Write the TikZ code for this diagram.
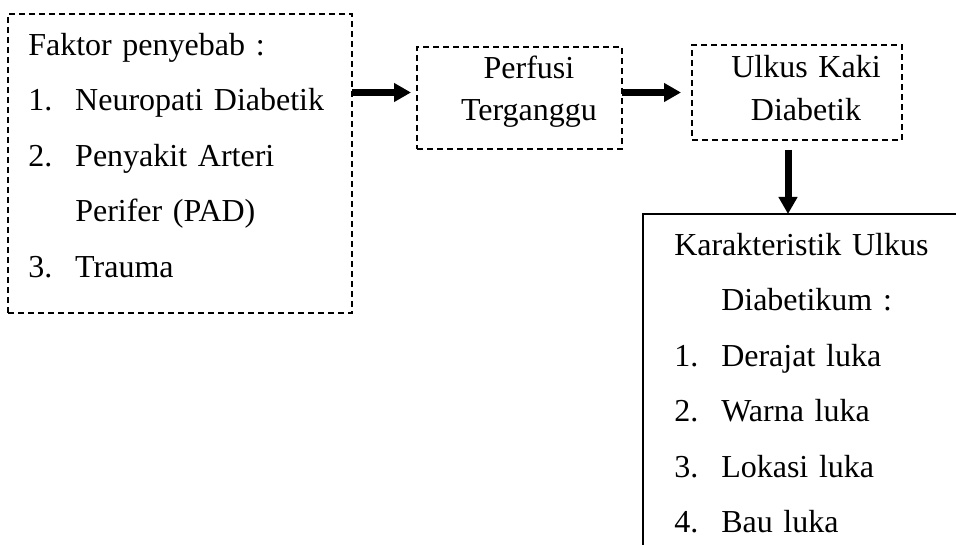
\documentclass[tikz,border=0pt]{standalone}
\usepackage{fontspec}
\setmainfont{Liberation Serif}
\usetikzlibrary{arrows.meta}
\newcommand\nomor[1]{\makebox[35.25pt][l]{#1}}
\tikzset{
  dbox/.style={draw, line width=1pt, dash pattern=on 4.5pt off 3pt, inner sep=0pt, outer sep=0pt},
  sbox/.style={draw, line width=1.5pt, inner sep=0pt, outer sep=0pt},
  teks/.style={font=\fontsize{24pt}{41.6pt}\selectfont, inner sep=0pt, align=left},
  arr/.style={line width=5.25pt, -{Triangle[length=12.75pt,width=13.5pt]}}
}
\begin{document}
\begin{tikzpicture}[x=0.75pt, y=-0.75pt]
  \useasboundingbox (0,0) rectangle (956,545);
  \clip (0,0) rectangle (956,545);
  % kotak
  \node[dbox, minimum width=258pt, minimum height=224.25pt] (fak) at (180,163.5) {};
  \node[dbox, minimum width=153.75pt, minimum height=76.5pt] (per) at (519.5,98) {};
  \node[dbox, minimum width=157.5pt, minimum height=71.25pt] (uk) at (797,92.5) {};
  \node[sbox, minimum width=267.75pt, minimum height=289.5pt] (kar) at (821.5,407) {};
  % teks
  \node[teks, text width=240pt, anchor=north west] (fakt) at (28,16.2)
    {\strut Faktor penyebab :\\
     \nomor{1.}Neuropati Diabetik\\
     \nomor{2.}Penyakit Arteri\\
     \nomor{}Perifer (PAD)\\
     \nomor{3.}Trauma};
  \node[teks, font=\fontsize{24pt}{31.5pt}\selectfont, text width=150pt, align=center, anchor=north] (pert) at (529,48.6)
    {\strut Perfusi\\ Terganggu};
  \node[teks, font=\fontsize{24pt}{32.25pt}\selectfont, text width=150pt, align=center, anchor=north] (ukt) at (806,47.6)
    {\strut Ulkus Kaki\\ Diabetik};
  \node[teks, text width=260pt, anchor=north west] (kart) at (674,216.2)
    {\strut Karakteristik Ulkus\\
     \nomor{}Diabetikum :\\
     \nomor{1.}Derajat luka\\
     \nomor{2.}Warna luka\\
     \nomor{3.}Lokasi luka\\
     \nomor{4.}Bau luka};
  % panah
  \draw[arr, shorten >=4.5pt] (fak.east |- uk.west) -- (per.west |- uk.west);
  \draw[arr, shorten >=8.25pt] (per.east |- uk.west) -- (uk.west);
  \coordinate (turun) at ([xshift=-6.75pt]uk.south);
  \draw[arr, shorten <=7.5pt] (turun) -- (turun |- kar.north);
\end{tikzpicture}
\end{document}
